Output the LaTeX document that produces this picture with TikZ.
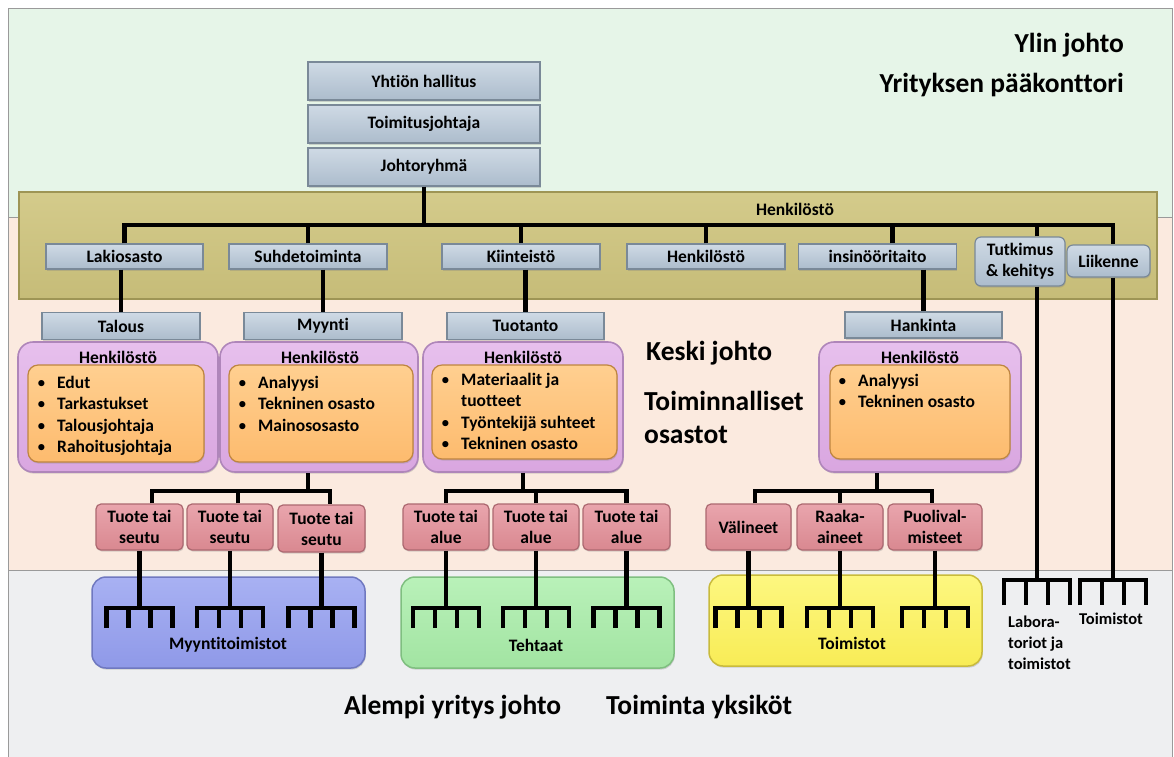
\documentclass[tikz,border=0pt]{standalone}
\usepackage{fontspec}
\setmainfont{Carlito}[Ligatures=NoCommon]
\usetikzlibrary{calc,shadows}

% background bands
\definecolor{bggreen}{HTML}{E6F5E8}
\definecolor{bgpeach}{HTML}{FBEADF}
\definecolor{bggrey}{HTML}{EEEFF1}
\definecolor{framegray}{HTML}{9A9A9A}
% box colours: top / bottom / border
\definecolor{oliveT}{HTML}{D4CB8B}\definecolor{oliveD}{HTML}{C6BC78}\definecolor{oliveB}{HTML}{9E9555}
\definecolor{slateT}{HTML}{CFDAE5}\definecolor{slateD}{HTML}{ACBCCC}\definecolor{slateB}{HTML}{7A8998}
\definecolor{purT}{HTML}{E7C0ED}\definecolor{purD}{HTML}{D9A6E0}\definecolor{purB}{HTML}{AF86BA}
\definecolor{orT}{HTML}{FFCF90}\definecolor{orD}{HTML}{FDBB6E}\definecolor{orB}{HTML}{BE8540}
\definecolor{pkT}{HTML}{E9A5AD}\definecolor{pkD}{HTML}{D98890}\definecolor{pkB}{HTML}{AC6870}
\definecolor{blT}{HTML}{A8B1F3}\definecolor{blD}{HTML}{8F99E8}\definecolor{blB}{HTML}{6F78C0}
\definecolor{grT}{HTML}{B9F1B9}\definecolor{grD}{HTML}{A2E4A2}\definecolor{grB}{HTML}{7FBF80}
\definecolor{yeT}{HTML}{FDF780}\definecolor{yeD}{HTML}{F8EC56}\definecolor{yeB}{HTML}{C9BB3C}

\newcommand\itm[1]{\makebox[20pt][l]{\mdseries\textbullet}#1}

\begin{document}
\begin{tikzpicture}[x=1pt,y=-1pt,
  every node/.style={inner sep=0pt, font=\bfseries\fontsize{17.5}{21}\selectfont, text=black},
  conn/.style={line width=4.5pt, black, line join=miter},
  bevel/.style={drop shadow={shadow xshift=0.8pt, shadow yshift=-1.6pt, opacity=0.3}},
  slatebox/.style={bevel, draw=slateB, line width=1.2pt, top color=slateT, bottom color=slateD, align=center},
  roundslate/.style={slatebox, rounded corners=6pt},
  bandbox/.style={bevel, draw=oliveB, line width=1.5pt, top color=oliveT, bottom color=oliveD},
  purbox/.style={bevel, draw=purB, line width=1.6pt, top color=purT, bottom color=purD, rounded corners=15pt},
  orbox/.style={bevel, draw=orB, line width=1.2pt, top color=orT, bottom color=orD, rounded corners=10pt},
  pinkbox/.style={bevel, draw=pkB, line width=1.2pt, top color=pkT, bottom color=pkD, rounded corners=5pt, align=center},
  unitbox/.style={bevel, line width=1.5pt, rounded corners=14pt, minimum width=273, minimum height=91},
  listtxt/.style={anchor=north west, align=left, font=\bfseries\fontsize{17.5}{21.3}\selectfont},
  biglbl/.style={font=\bfseries\fontsize{27.5}{33}\selectfont},
  pics/rake/.style={code={
    \draw[conn] (-33,#1) -- (-33,0) -- (33,0) -- (33,#1);
    \draw[conn] (-11,0) -- (-11,#1) (11,0) -- (11,#1);
  }}
]
\useasboundingbox (0,0) rectangle (1174,756);

% three management bands
\fill[bggreen] (8,8) rectangle (1172,217);
\fill[bgpeach] (8,217) rectangle (1172,570);
\fill[bggrey] (8,570) rectangle (1172,760);
\draw[framegray, line width=0.8pt] (8,760) -- (8,8) -- (1172,8) -- (1172,760)
  (8,217) -- (1172,217) (8,570) -- (1172,570);

% top management
\node[slatebox, minimum width=232, minimum height=38] (board) at (424,81) {Yhtiön hallitus};
\node[slatebox, minimum width=232, minimum height=38] (ceo) at (424,124) {Toimitusjohtaja};
\node[slatebox, minimum width=232, minimum height=38] (mgmt) at (424,167) {Johtoryhmä};

% staff band
\node[bandbox, anchor=north west, minimum width=1138, minimum height=107] (band) at (18,191) {};
\node (bandlbl) at (795,209) {Henkilöstö};

\node[slatebox, minimum width=157, minimum height=25] (lak) at (124.5,256.5) {Lakiosasto};
\node[slatebox, minimum width=158, minimum height=25] (suh) at (308,256.5) {Suhdetoiminta};
\node[slatebox, minimum width=158, minimum height=25] (kii) at (521,256.5) {Kiinteistö};
\node[slatebox, minimum width=158, minimum height=25] (hen) at (706,256.5) {Henkilöstö};
\node[slatebox, minimum width=158, minimum height=25] (ins) at (877.5,256.5) {insinööritaito};
\node[roundslate, minimum width=90, minimum height=49] (tk) at (1020,261.5) {Tutkimus\\\& kehitys};
\node[roundslate, minimum width=83, minimum height=32] (lik) at (1108.5,261) {Liikenne};

% functional departments
\node[purbox, minimum width=200, minimum height=130] (p1) at (118,407) {};
\node[purbox, minimum width=198, minimum height=130] (p2) at (319,407) {};
\node[purbox, minimum width=200, minimum height=130] (p3) at (523,407) {};
\node[purbox, minimum width=202, minimum height=130] (p4) at (920,407) {};

\node[slatebox, minimum width=158, minimum height=27] (tal) at (121,326) {Talous};
\node[slatebox, minimum width=158, minimum height=27] (myy) at (323,326) {Myynti};
\node[slatebox, minimum width=157, minimum height=27] (tuo) at (525.5,326) {Tuotanto};
\node[slatebox, minimum width=157, minimum height=26] (han) at (923.5,325) {Hankinta};

\node (h1) at (118,357) {Henkilöstö};
\node (h2) at (320,357) {Henkilöstö};
\node (h3) at (523,357) {Henkilöstö};
\node (h4) at (920,357) {Henkilöstö};

\node[orbox, minimum width=176, minimum height=97] (o1) at (116,413.5) {};
\node[orbox, minimum width=184, minimum height=97] (o2) at (321,413.5) {};
\node[orbox, minimum width=185, minimum height=94] (o3) at (524.5,412) {};
\node[orbox, minimum width=180, minimum height=94] (o4) at (920,412) {};

\node[listtxt] (l1) at (37,376) {\itm{Edut}\\\itm{Tarkastukset}\\\itm{Talousjohtaja}\\\itm{Rahoitusjohtaja}};
\node[listtxt] (l2) at (238,376) {\itm{Analyysi}\\\itm{Tekninen osasto}\\\itm{Mainososasto}};
\node[listtxt] (l3) at (441,373) {\itm{Materiaalit ja}\\\hspace*{20pt}tuotteet\\\itm{Työntekijä suhteet}\\\itm{Tekninen osasto}};
\node[listtxt] (l4) at (838,374) {\itm{Analyysi}\\\itm{Tekninen osasto}};

% product / region / material units
\node[pinkbox, minimum width=87, minimum height=46] (ps1) at (139.5,527) {Tuote tai\\seutu};
\node[pinkbox, minimum width=86, minimum height=46] (ps2) at (230,527) {Tuote tai\\seutu};
\node[pinkbox, minimum width=87, minimum height=47] (ps3) at (321.5,528.5) {Tuote tai\\seutu};
\node[pinkbox, minimum width=86, minimum height=46] (pt1) at (446,527) {Tuote tai\\alue};
\node[pinkbox, minimum width=86, minimum height=46] (pt2) at (536,527) {Tuote tai\\alue};
\node[pinkbox, minimum width=87, minimum height=46] (pt3) at (626.5,527) {Tuote tai\\alue};
\node[pinkbox, minimum width=85, minimum height=46] (ph1) at (748.5,527) {Välineet};
\node[pinkbox, minimum width=86, minimum height=46] (ph2) at (840,527) {Raaka-\\aineet};
\node[pinkbox, minimum width=94, minimum height=46] (ph3) at (935,527) {Puolival-\\misteet};

% operating units
\node[unitbox, draw=blB, top color=blT, bottom color=blD] (ub) at (228.5,622.5) {};
\node[unitbox, draw=grB, top color=grT, bottom color=grD] (ug) at (537.5,622.5) {};
\node[unitbox, draw=yeB, top color=yeT, bottom color=yeD] (uy) at (845.5,620.5) {};
\node (lblmy) at (228,645) {Myyntitoimistot};
\node (lblteh) at (536,645) {Tehtaat};
\node (lbltoim) at (852,643) {Toimistot};

\node[anchor=west, align=left, font=\bfseries\fontsize{16.5}{21}\selectfont] (lab) at (1008,643) {Labora-\\toriot ja\\toimistot};
\node[font=\bfseries\fontsize{16.5}{21}\selectfont] (toim2) at (1111,619) {Toimistot};

% level captions
\node[biglbl, anchor=east] (ylin) at (1124,45) {Ylin johto};
\node[biglbl, anchor=east] (hq) at (1124,85) {Yrityksen pääkonttori};
\node[biglbl, anchor=west] (keski) at (646,353) {Keski johto};
\node[biglbl, anchor=west, align=left] (toimo) at (644,417) {Toiminnalliset\\osastot};
\node[biglbl, anchor=west] (alempi) at (344,707) {Alempi yritys johto};
\node[biglbl, anchor=west] (tyks) at (606,707) {Toiminta yksiköt};

% connectors: top to staff band
\coordinate (bus) at (0,225);
\draw[conn] (mgmt.south) -- (mgmt.south |- bus);
\coordinate (likc) at ($(lik.north)+(4.5,0)$);
\coordinate (likb) at ($(lik.south)+(4.5,0)$);
\draw[conn] (lak.north) -- (lak.north |- bus) -- (likc |- bus) -- (likc);
\foreach \n in {suh,kii,hen} \draw[conn] (\n.north) -- (\n.north |- bus);
\coordinate (insc) at ($(ins.north)+(15,0)$);
\draw[conn] (insc) -- (insc |- bus);
\coordinate (tkc) at ($(tk.north)+(17,0)$);
\coordinate (tkb) at ($(tk.south)+(17,0)$);
\draw[conn] (tkc) -- (tkc |- bus);

% staff band to departments
\draw[conn] (tal.north |- lak.south) -- (tal.north);
\draw[conn] (myy.north |- suh.south) -- (myy.north);
\draw[conn] (tuo.north |- kii.south) -- (tuo.north);
\draw[conn] (han.north |- ins.south) -- (han.north);

% departments to units
\coordinate (pbus) at (0,491);
\coordinate (s2) at ($(p2.south)+(-11,0)$);
\draw[conn] (s2) -- (s2 |- pbus);
\coordinate (a1) at ($(ps1.north)+(12.5,0)$);
\coordinate (a2) at ($(ps2.north)+(8,0)$);
\coordinate (a3) at ($(ps3.north)+(8.5,0)$);
\draw[conn] (a1) -- (a1 |- pbus) -- (a3 |- pbus) -- (a3);
\draw[conn] (a2) -- (a2 |- pbus);

\draw[conn] (p3.south) -- (p3.south |- pbus);
\draw[conn] (pt1.north) -- (pt1.north |- pbus) -- (pt3.north |- pbus) -- (pt3.north);
\draw[conn] (pt2.north) -- (pt2.north |- pbus);

\coordinate (s4) at ($(p4.south)+(-43,0)$);
\draw[conn] (s4) -- (s4 |- pbus);
\coordinate (b1) at ($(ph1.north)+(6.5,0)$);
\coordinate (b3) at ($(ph3.north)+(-3,0)$);
\draw[conn] (b1) -- (b1 |- pbus) -- (b3 |- pbus) -- (b3);
\draw[conn] (ph2.north) -- (ph2.north |- pbus);

% units to operating rakes
\coordinate (rk) at (0,608);
\foreach \n in {ps1,ps2,ps3,pt1,pt2,pt3,ph1,ph2,ph3} {
  \draw[conn] (\n.south) -- (\n.south |- rk);
  \pic at (\n.south |- rk) {rake=20};
}

% research and logistics lines
\coordinate (hb) at (0,580);
\draw[conn] (tkb) -- (tkb |- hb);
\pic at (tkb |- hb) {rake=25};
\draw[conn] (likb) -- (likb |- hb);
\pic at (likb |- hb) {rake=25};
\end{tikzpicture}
\end{document}
